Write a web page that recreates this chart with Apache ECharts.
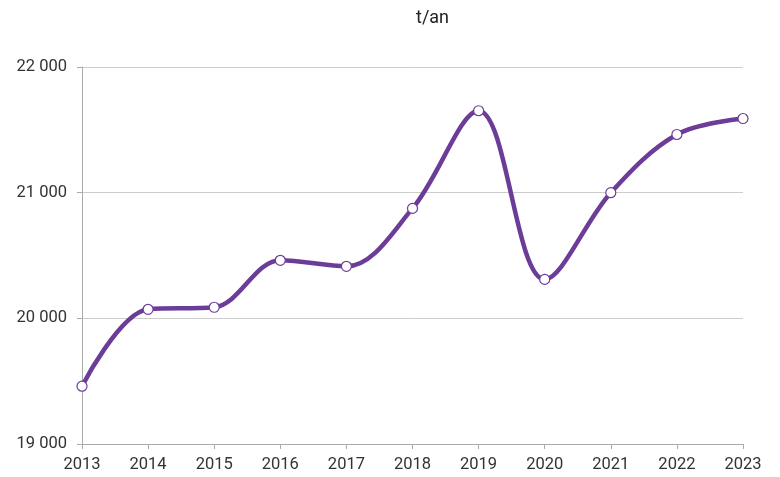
<!DOCTYPE html>
<html><head><meta charset="utf-8">
<script src="https://cdn.jsdelivr.net/npm/echarts@6/dist/echarts.min.js"></script>
<style>html,body{margin:0;padding:0;background:#fff}#c{width:780px;height:477px}</style>
</head><body><div id="c"></div>
<script>
const years = ['2013','2014','2015','2016','2017','2018','2019','2020','2021','2022','2023'];
const values = [19460, 20072, 20088, 20462, 20414, 20875, 21652, 20310, 21000, 21463, 21590];
const unitLabel = 't/an';

const chart = echarts.init(document.getElementById('c'), null, {renderer:'canvas'});
const fmt = v => String(v).replace(/\B(?=(\d{3})+(?!\d))/g, ' ');
chart.setOption({
  animation: false,
  textStyle: {fontFamily: 'Roboto'},
  title: {text: unitLabel, left: 411, top: 4,
    textStyle: {fontFamily: 'Roboto', fontSize: 18, fontWeight: 'normal', color: '#222'}},
  grid: {left: 82, right: 37, top: 67, bottom: 33},
  xAxis: {type: 'category', data: years, boundaryGap: false,
    axisLine: {lineStyle: {color: '#aaa'}},
    axisTick: {show: true, alignWithLabel: true, length: 5, lineStyle: {color: '#aaa'}},
    axisLabel: {color: '#333', fontSize: 16.5, margin: 12, fontFamily: 'Roboto'},
    splitLine: {show: false}},
  yAxis: {type: 'value', min: 19000, max: 22000, interval: 1000,
    axisLine: {show: true, lineStyle: {color: '#aaa'}},
    axisTick: {show: true, length: 5, lineStyle: {color: '#aaa'}},
    axisLabel: {color: '#333', fontSize: 16.5, margin: 15, fontFamily: 'Roboto', formatter: fmt},
    splitLine: {show: true, lineStyle: {color: '#ccc'}}},
  series: [{type: 'line', data: values, smooth: 0.35,
    symbol: 'circle', symbolSize: 10,
    itemStyle: {color: '#fff', borderColor: '#6b3d99', borderWidth: 1.2},
    lineStyle: {color: '#6b3d99', width: 4.5}}]
});
</script></body></html>
